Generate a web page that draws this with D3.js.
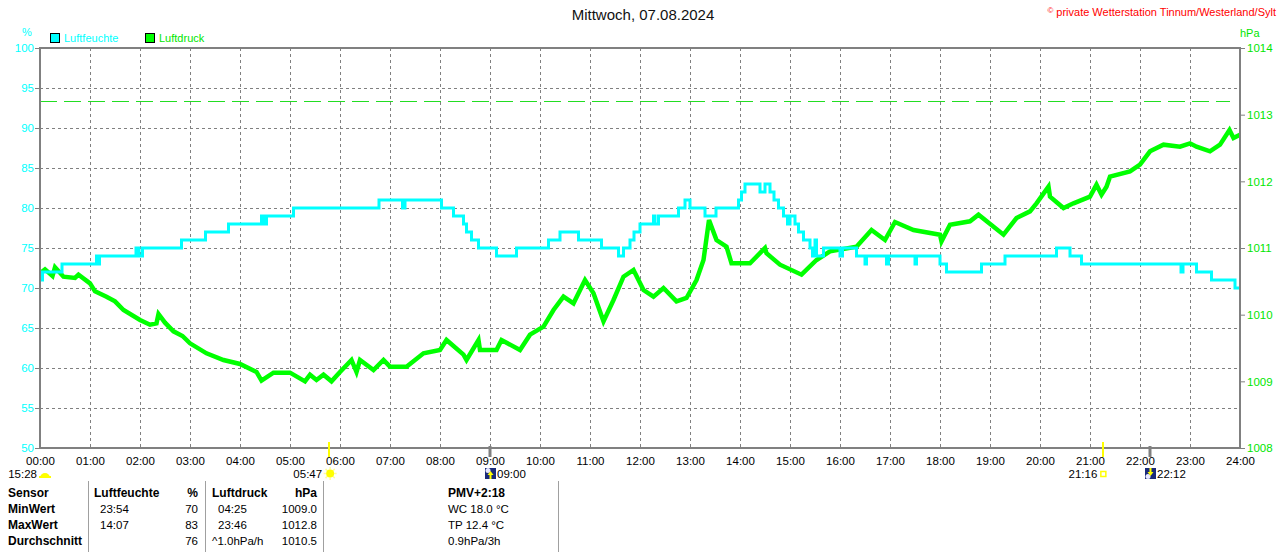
<!DOCTYPE html>
<html>
<head>
<meta charset="utf-8">
<script src="https://cdn.jsdelivr.net/npm/d3@7/dist/d3.min.js"></script>
<style>
  body { margin: 0; background: #fff; }
  svg { display: block; font-family: "Liberation Sans", Arial, sans-serif; }
</style>
</head>
<body>
<div id="chart"></div>
<script>
// Luftfeuchte (%) as step changes: [Stunde, Wert]
const humidity = [
  [0, 71], [0.05, 72], [0.44, 73], [1.13, 74], [1.16, 73], [1.19, 74], [1.92, 75], [1.98, 74], [2.05, 75],
  [2.83, 76], [3.31, 77], [3.77, 78], [4.43, 79], [4.47, 78], [4.53, 79], [5.07, 80], [6.78, 81],
  [7.25, 80], [7.3, 81], [8.03, 80], [8.27, 79], [8.47, 78], [8.53, 77], [8.63, 76], [8.77, 75],
  [9.13, 74], [9.53, 75], [10.17, 76], [10.4, 77], [10.77, 76], [11.23, 75], [11.57, 74], [11.67, 75],
  [11.8, 76], [11.88, 77], [12.0, 78], [12.27, 79], [12.3, 78], [12.37, 79], [12.77, 80], [12.9, 81],
  [13.0, 80], [13.3, 79], [13.52, 80], [13.97, 81], [14.03, 82], [14.1, 83], [14.4, 82], [14.5, 83],
  [14.6, 82], [14.68, 81], [14.77, 80], [14.87, 79], [14.95, 78], [15.0, 79], [15.1, 78], [15.17, 77],
  [15.27, 76], [15.4, 75], [15.45, 74], [15.5, 76], [15.53, 74], [15.67, 75], [16.0, 74], [16.05, 75],
  [16.33, 74], [16.5, 73], [16.53, 74], [16.93, 73], [16.97, 74], [17.5, 73], [17.53, 74], [18.0, 73],
  [18.13, 72], [18.83, 73], [19.3, 74], [20.33, 75], [20.6, 74], [20.83, 73], [22.82, 72], [22.86, 73],
  [23.13, 72], [23.43, 71], [23.9, 70], [24, 70]
];

// Luftdruck (hPa): [Stunde, Wert]
const pressure = [
  [0, 1010.62], [0.1, 1010.68], [0.25, 1010.58], [0.3, 1010.71], [0.47, 1010.57], [0.7, 1010.55],
  [0.77, 1010.6], [1.0, 1010.47], [1.1, 1010.35], [1.33, 1010.27], [1.5, 1010.2], [1.67, 1010.07],
  [2.0, 1009.92], [2.2, 1009.85], [2.33, 1009.87], [2.37, 1010.01], [2.5, 1009.88], [2.67, 1009.75],
  [2.85, 1009.68], [3.0, 1009.57], [3.33, 1009.42], [3.67, 1009.32], [4.0, 1009.26], [4.33, 1009.14],
  [4.43, 1009.01], [4.67, 1009.13], [5.0, 1009.13], [5.3, 1009.0], [5.4, 1009.1], [5.53, 1009.02],
  [5.67, 1009.1], [5.83, 1009.0], [6.0, 1009.14], [6.23, 1009.32], [6.33, 1009.14], [6.4, 1009.32],
  [6.67, 1009.17], [6.87, 1009.32], [7.0, 1009.22], [7.33, 1009.22], [7.67, 1009.42], [8.0, 1009.47],
  [8.13, 1009.62], [8.47, 1009.4], [8.53, 1009.32], [8.77, 1009.62], [8.8, 1009.47], [9.13, 1009.47],
  [9.23, 1009.62], [9.6, 1009.47], [9.8, 1009.7], [10.07, 1009.82], [10.27, 1010.07], [10.47, 1010.27],
  [10.67, 1010.17], [10.9, 1010.52], [11.07, 1010.32], [11.27, 1009.9], [11.47, 1010.22], [11.67, 1010.57],
  [11.87, 1010.67], [12.07, 1010.37], [12.27, 1010.27], [12.47, 1010.4], [12.73, 1010.2], [12.93, 1010.25],
  [13.13, 1010.52], [13.27, 1010.82], [13.38, 1011.42], [13.53, 1011.12], [13.73, 1011.02], [13.83, 1010.77],
  [14.2, 1010.77], [14.5, 1011.0], [14.53, 1010.92], [14.8, 1010.75], [15.23, 1010.6], [15.53, 1010.82],
  [15.8, 1010.95], [16.33, 1011.02], [16.63, 1011.27], [16.9, 1011.12], [17.1, 1011.39], [17.47, 1011.27],
  [18.0, 1011.2], [18.03, 1011.1], [18.2, 1011.35], [18.6, 1011.4], [18.77, 1011.5], [19.27, 1011.2],
  [19.53, 1011.45], [19.8, 1011.55], [19.93, 1011.67], [20.17, 1011.92], [20.2, 1011.77], [20.47, 1011.6],
  [20.67, 1011.67], [21.0, 1011.77], [21.13, 1011.95], [21.23, 1011.8], [21.33, 1011.92], [21.4, 1012.07],
  [21.8, 1012.15], [22.0, 1012.25], [22.2, 1012.45], [22.47, 1012.55], [22.8, 1012.52], [23.0, 1012.57],
  [23.13, 1012.52], [23.4, 1012.45], [23.6, 1012.55], [23.79, 1012.77], [23.87, 1012.65], [24, 1012.7]
];

const referencePressure = 1013.2;
const hourTicks = d3.range(0, 25);
const humidityTicks = d3.range(50, 101, 5);
const pressureTicks = d3.range(1008, 1015, 1);

// Sonnenauf-/untergang und Mondauf-/untergang
const sunEvents = [{t: 5.783, label: "05:47"}, {t: 21.267, label: "21:16"}];
const moonEvents = [{t: 9.0, label: "09:00", up: true}, {t: 22.2, label: "22:12", up: false}];
const dayLength = "15:28";

const tableRows = [
  ["Sensor", "Luftfeuchte", "%", "Luftdruck", "hPa", "PMV+2:18"],
  ["MinWert", "23:54", "70", "04:25", "1009.0", "WC 18.0 °C"],
  ["MaxWert", "14:07", "83", "23:46", "1012.8", "TP 12.4 °C"],
  ["Durchschnitt", "", "76", "^1.0hPa/h", "1010.5", "0.9hPa/3h"]
];

const W = 1280, H = 552;
const plot = {left: 40, right: 1240, top: 48, bottom: 448};
const cyan = "#00ffff", green = "#00ff00", greenText = "#00e600", frameGray = "#808080";

const svg = d3.select("#chart").append("svg").attr("width", W).attr("height", H);

const x = d3.scaleLinear().domain([0, 24]).range([plot.left, plot.right]);
const yH = d3.scaleLinear().domain([50, 100]).range([plot.bottom, plot.top]);
const yP = d3.scaleLinear().domain([1008, 1014]).range([plot.bottom, plot.top]);

// title + copyright
svg.append("text").attr("x", 643).attr("y", 20).attr("text-anchor", "middle")
  .style("font-size", "15px").attr("fill", "#111").text("Mittwoch, 07.08.2024");
const copy = svg.append("text").attr("x", 1276).attr("y", 16).attr("text-anchor", "end")
  .style("font-size", "11px").attr("fill", "#ff0000").text("private Wetterstation Tinnum/Westerland/Sylt");
const copyLen = copy.node().getComputedTextLength();
svg.append("text").attr("x", 1276 - copyLen - 3).attr("y", 13).attr("text-anchor", "end")
  .style("font-size", "8px").attr("fill", "#ff0000").text("©");

// units + legend
svg.append("text").attr("x", 27).attr("y", 36).attr("text-anchor", "middle")
  .style("font-size", "11px").attr("fill", cyan).text("%");
svg.append("text").attr("x", 1240).attr("y", 37)
  .style("font-size", "11px").attr("fill", greenText).text("hPa");

const legend = [{name: "Luftfeuchte", color: cyan, x: 50}, {name: "Luftdruck", color: green, x: 145}];
legend.forEach(l => {
  svg.append("rect").attr("x", l.x + 0.5).attr("y", 33.5).attr("width", 9).attr("height", 9)
    .attr("fill", l.color).attr("stroke", "#000");
  svg.append("text").attr("x", l.x + 14).attr("y", 42).style("font-size", "11px")
    .attr("fill", l.name === "Luftfeuchte" ? cyan : greenText).text(l.name);
});

// grid
const grid = svg.append("g").attr("stroke", frameGray).attr("stroke-dasharray", "3,3").attr("stroke-width", 1);
hourTicks.slice(1, -1).forEach(h => {
  grid.append("line").attr("x1", Math.round(x(h)) + 0.5).attr("x2", Math.round(x(h)) + 0.5)
    .attr("y1", plot.top).attr("y2", plot.bottom);
});
humidityTicks.slice(1, -1).forEach(v => {
  grid.append("line").attr("x1", plot.left).attr("x2", plot.right)
    .attr("y1", Math.round(yH(v)) + 0.5).attr("y2", Math.round(yH(v)) + 0.5);
});

// reference pressure line
svg.append("line").attr("x1", plot.left).attr("x2", 1230)
  .attr("y1", Math.round(yP(referencePressure)) + 0.5).attr("y2", Math.round(yP(referencePressure)) + 0.5)
  .attr("stroke", "#22dd22").attr("stroke-dasharray", "17,7");

// data lines
svg.append("clipPath").attr("id", "clip").append("rect")
  .attr("x", plot.left).attr("y", plot.top).attr("width", plot.right - plot.left).attr("height", plot.bottom - plot.top);

svg.append("path").datum(pressure)
  .attr("clip-path", "url(#clip)")
  .attr("fill", "none").attr("stroke", green).attr("stroke-width", 4.5)
  .attr("d", d3.line().x(d => x(d[0])).y(d => yP(d[1])));

svg.append("path").datum(humidity)
  .attr("clip-path", "url(#clip)")
  .attr("fill", "none").attr("stroke", cyan).attr("stroke-width", 3)
  .attr("d", d3.line().curve(d3.curveStepAfter).x(d => x(d[0])).y(d => yH(d[1])));

// axes
const axL = svg.append("g").attr("transform", `translate(${plot.left},0)`)
  .call(d3.axisLeft(yH).tickValues(humidityTicks).tickSize(5).tickPadding(1));
axL.select(".domain").remove();
axL.selectAll("line").attr("stroke", frameGray);
axL.selectAll("text").attr("fill", cyan).style("font-size", "11.5px").style("font-family", "Liberation Sans, Arial");

const axR = svg.append("g").attr("transform", `translate(${plot.right},0)`)
  .call(d3.axisRight(yP).tickValues(pressureTicks).tickSize(5).tickPadding(2).tickFormat(d3.format("d")));
axR.select(".domain").remove();
axR.selectAll("line").attr("stroke", frameGray);
axR.selectAll("text").attr("fill", greenText).style("font-size", "11.5px").style("font-family", "Liberation Sans, Arial");

const axB = svg.append("g").attr("transform", `translate(0,${plot.bottom})`)
  .call(d3.axisBottom(x).tickValues(hourTicks).tickSize(0).tickPadding(9)
    .tickFormat(h => String(h).padStart(2, "0") + ":00"));
axB.select(".domain").remove();
axB.selectAll("text").attr("fill", "#000").style("font-size", "11.5px").style("font-family", "Liberation Sans, Arial");

// frame
svg.append("rect").attr("x", plot.left).attr("y", plot.top)
  .attr("width", plot.right - plot.left).attr("height", plot.bottom - plot.top)
  .attr("fill", "none").attr("stroke", frameGray).attr("stroke-width", 2);

// sun / moon markers on the time axis
sunEvents.forEach(e => {
  svg.append("line").attr("x1", Math.round(x(e.t))).attr("x2", Math.round(x(e.t)))
    .attr("y1", 442).attr("y2", 457).attr("stroke", "#ffff00").attr("stroke-width", 2);
});
moonEvents.forEach(e => {
  svg.append("line").attr("x1", Math.round(x(e.t))).attr("x2", Math.round(x(e.t)))
    .attr("y1", 446).attr("y2", 457).attr("stroke", frameGray).attr("stroke-width", 3);
});

const lab = svg.append("g").style("font-size", "11.5px").attr("fill", "#000");
// day length + half sun
lab.append("text").attr("x", 37).attr("y", 478).attr("text-anchor", "end").text(dayLength);
lab.append("path").attr("d", "M40,478 A5,5 0 0 1 50,478 Z").attr("fill", "#ffff00");
lab.append("rect").attr("x", 39).attr("y", 476).attr("width", 12).attr("height", 2).attr("fill", "#ffff00");

// sunrise
const sr = sunEvents[0], ss = sunEvents[1];
lab.append("text").attr("x", x(sr.t) - 7).attr("y", 478).attr("text-anchor", "end").text(sr.label);
const sun = svg.append("g").attr("transform", `translate(${x(sr.t) + 1},${473.5})`);
d3.range(0, 8).forEach(i => {
  const a = i * Math.PI / 4;
  sun.append("line").attr("x1", Math.cos(a) * 4).attr("y1", Math.sin(a) * 4)
    .attr("x2", Math.cos(a) * 6.5).attr("y2", Math.sin(a) * 6.5).attr("stroke", "#ffff99").attr("stroke-width", 1.5);
});
sun.append("circle").attr("r", 4).attr("fill", "#ffff00");

// sunset
lab.append("text").attr("x", x(ss.t) - 6).attr("y", 478).attr("text-anchor", "end").text(ss.label);
svg.append("rect").attr("x", x(ss.t) - 2.5).attr("y", 471.5).attr("width", 5).attr("height", 5)
  .attr("fill", "none").attr("stroke", "#ffff00").attr("stroke-width", 1.5);

// moon icons
moonEvents.forEach(e => {
  const cx = x(e.t);
  const g = svg.append("g").attr("transform", `translate(${cx - 5},468)`);
  g.append("rect").attr("width", 11).attr("height", 11).attr("fill", "#1a2a7a");
  g.append("circle").attr("cx", 3).attr("cy", e.up ? 2.5 : 8.5).attr("r", 2.5).attr("fill", "#e8e8ff");
  const arrow = e.up ? "M5.5,3 L8.5,7 L6.5,7 L6.5,11 L4.5,11 L4.5,7 L2.5,7 Z"
                     : "M5.5,8 L8.5,4 L6.5,4 L6.5,0 L4.5,0 L4.5,4 L2.5,4 Z";
  g.append("path").attr("d", arrow).attr("fill", "#ffff00");
  lab.append("text").attr("x", cx + 7).attr("y", 478).text(e.label);
});

// table
const sepX = [88, 205, 323, 558];
sepX.forEach(sx => {
  svg.append("line").attr("x1", sx + 0.5).attr("x2", sx + 0.5).attr("y1", 481).attr("y2", 552)
    .attr("stroke", "#a0a0a0");
});
const colX = [8, 94, 198, 212, 317, 448];
const colAnchor = ["start", "start", "end", "start", "end", "start"];
const rowY = [497, 513, 529, 545];
tableRows.forEach((row, r) => {
  row.forEach((cell, c) => {
    const bold = r === 0 || c === 0;
    let cx = colX[c];
    if (r > 0 && (c === 1 || c === 3) && cell.indexOf(":") === 2) cx += 6;
    svg.append("text").attr("x", cx).attr("y", rowY[r]).attr("text-anchor", colAnchor[c])
      .style("font-size", bold ? "12px" : "11.5px").style("font-weight", bold ? "bold" : "normal")
      .attr("fill", "#000").text(cell);
  });
});
</script>
</body>
</html>
